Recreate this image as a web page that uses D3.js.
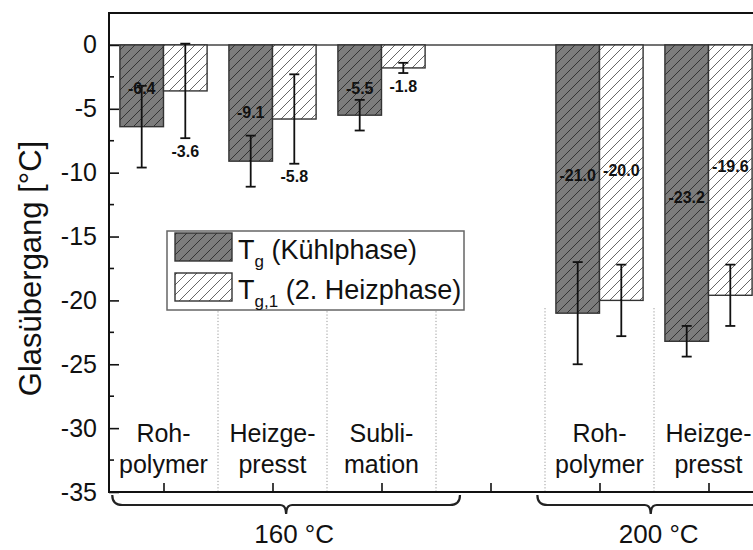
<!DOCTYPE html>
<html>
<head>
<meta charset="utf-8">
<script src="https://cdn.jsdelivr.net/npm/d3@7/dist/d3.min.js"></script>
<style>
  html, body { margin: 0; padding: 0; background: #fff; }
  svg { display: block; font-family: "Liberation Sans", Arial, sans-serif; }
</style>
</head>
<body>
<svg id="chart" width="753" height="550"></svg>
<script>
// Category slots along the x axis (index 3 is the gap between the two temperature groups)
const categories = [["Roh-", "polymer"], ["Heizge-", "presst"], ["Subli-", "mation"], [], ["Roh-", "polymer"], ["Heizge-", "presst"]];
// Glass transition shift, cooling phase (Tg) and 2nd heating phase (Tg,1), in °C
const tgValues  = [-6.4, -9.1, -5.5, null, -21.0, -23.2];
const tgErrors  = [3.2, 2.0, 1.2, null, 4.0, 1.2];
const tg1Values = [-3.6, -5.8, -1.8, null, -20.0, -19.6];
const tg1Errors = [3.7, 3.5, 0.4, null, 2.8, 2.4];
// Where each value label sits (in °C along the axis)
const tgLabelAt  = [-3.4, -5.3, -3.4, null, -10.2, -11.9];
const tg1LabelAt = [-8.3, -10.3, -3.2, null, -9.8, -9.5];
const yTicks = [0, -5, -10, -15, -20, -25, -30, -35];
const yMinorTicks = [-2.5, -7.5, -12.5, -17.5, -22.5, -27.5, -32.5];
const groupLabels = ["160 °C", "200 °C"];
const seriesNames = [["T", "g", " (Kühlphase)"], ["T", "g,1", " (2. Heizphase)"]];

(function draw() {
  const svg = d3.select("#chart");
  const FONT = '"Liberation Sans", Arial, sans-serif';

  const x = d3.scaleLinear().domain([-0.5, 5.5]).range([109, 763]);
  const y = d3.scaleLinear().domain([2.5, -35]).range([13, 492]);
  const barW = x(0.4) - x(0);

  // hatch patterns
  const defs = svg.append("defs");
  function hatch(id, bg, stroke) {
    const p = defs.append("pattern").attr("id", id)
      .attr("patternUnits", "userSpaceOnUse").attr("width", 10).attr("height", 10);
    p.append("rect").attr("width", 10).attr("height", 10).attr("fill", bg);
    p.append("path").attr("d", "M-1,11 L11,-1 M-3,3 L3,-3 M7,13 L13,7")
      .attr("stroke", stroke).attr("stroke-width", 1);
  }
  hatch("hatchDark", "#7c7c7c", "#333");
  hatch("hatchLight", "#fff", "#666");

  const plotLeft = x.range()[0], plotRight = 753, plotTop = y(2.5), plotBottom = y(-35);

  // dotted separators between categories
  const seps = [0.5, 1.5, 2.5, 3.5, 4.5];
  svg.append("g").selectAll("line").data(seps).join("line")
    .attr("x1", d => x(d)).attr("x2", d => x(d))
    .attr("y1", y(-20.6)).attr("y2", plotBottom)
    .attr("stroke", "#999").attr("stroke-width", 1).attr("stroke-dasharray", "1.2,2");

  // zero line
  svg.append("line").attr("x1", plotLeft).attr("x2", plotRight).attr("y1", y(0)).attr("y2", y(0))
    .attr("stroke", "#444").attr("stroke-width", 1.6);

  const idx = d3.range(categories.length);
  const series = [
    { vals: tgValues, errs: tgErrors, labs: tgLabelAt, offset: -0.4, fill: "url(#hatchDark)" },
    { vals: tg1Values, errs: tg1Errors, labs: tg1LabelAt, offset: 0, fill: "url(#hatchLight)" }
  ];

  series.forEach(s => {
    const data = idx.filter(i => s.vals[i] != null);
    svg.append("g").selectAll("rect").data(data).join("rect")
      .attr("x", i => x(i + s.offset))
      .attr("y", y(0))
      .attr("width", barW)
      .attr("height", i => y(s.vals[i]) - y(0))
      .attr("fill", s.fill)
      .attr("stroke", "#333").attr("stroke-width", 1.4);
  });

  series.forEach(s => {
    const data = idx.filter(i => s.vals[i] != null);
    const g = svg.append("g").attr("stroke", "#111").attr("stroke-width", 1.8);
    data.forEach(i => {
      const cx = x(i + s.offset + 0.2);
      const y1 = y(s.vals[i] + s.errs[i]), y2 = y(s.vals[i] - s.errs[i]);
      g.append("line").attr("x1", cx).attr("x2", cx).attr("y1", y1).attr("y2", y2);
      g.append("line").attr("x1", cx - 5).attr("x2", cx + 5).attr("y1", y1).attr("y2", y1);
      g.append("line").attr("x1", cx - 5).attr("x2", cx + 5).attr("y1", y2).attr("y2", y2);
    });
  });

  series.forEach(s => {
    const data = idx.filter(i => s.vals[i] != null);
    svg.append("g").selectAll("text").data(data).join("text")
      .attr("x", i => x(i + s.offset + 0.2))
      .attr("y", i => y(s.labs[i]))
      .attr("dy", "0.36em")
      .attr("text-anchor", "middle")
      .attr("font-family", FONT).attr("font-size", 16).attr("font-weight", "bold")
      .attr("fill", "#111")
      .text(i => s.vals[i].toFixed(1));
  });

  // frame: top border, left axis, bottom axis
  svg.append("line").attr("x1", plotLeft).attr("x2", plotRight).attr("y1", plotTop).attr("y2", plotTop)
    .attr("stroke", "#111").attr("stroke-width", 2);

  const yAxis = d3.axisLeft(y).tickValues(yTicks).tickSize(-10).tickPadding(12).tickFormat(d => String(d));
  const gy = svg.append("g").attr("transform", `translate(${plotLeft},0)`).call(yAxis);
  gy.select(".domain").remove();
  gy.selectAll(".tick line").attr("stroke", "#111").attr("stroke-width", 1.6);
  gy.selectAll(".tick text").attr("font-family", FONT).attr("font-size", 25).attr("fill", "#111");
  svg.append("g").selectAll("line").data(yMinorTicks).join("line")
    .attr("x1", plotLeft).attr("x2", plotLeft + 5).attr("y1", d => y(d)).attr("y2", d => y(d))
    .attr("stroke", "#111").attr("stroke-width", 1.6);
  svg.append("line").attr("x1", plotLeft).attr("x2", plotLeft).attr("y1", plotTop - 1).attr("y2", plotBottom + 1)
    .attr("stroke", "#111").attr("stroke-width", 2);

  const xAxis = d3.axisBottom(x).tickValues(idx).tickSize(-9).tickFormat("");
  const gx = svg.append("g").attr("transform", `translate(0,${plotBottom})`).call(xAxis);
  gx.select(".domain").remove();
  gx.selectAll(".tick line").attr("stroke", "#111").attr("stroke-width", 1.6);
  svg.append("line").attr("x1", plotLeft).attr("x2", plotRight).attr("y1", plotBottom).attr("y2", plotBottom)
    .attr("stroke", "#111").attr("stroke-width", 2);

  // category labels (two lines each)
  const cat = svg.append("g").attr("font-family", FONT).attr("font-size", 25).attr("fill", "#111")
    .attr("text-anchor", "middle");
  idx.forEach(i => {
    categories[i].forEach((line, k) => {
      cat.append("text").attr("x", x(i)).attr("y", 442 + k * 31).text(line);
    });
  });

  // group braces under the axis
  const braceSpans = [[-0.47, 2.72], [3.43, 5.51]];
  const bg = svg.append("g");
  braceSpans.forEach(([a, b], gi) => {
    const x0 = x(a), x1 = x(b), cx = (x0 + x1) / 2;
    const yb = plotBottom + 13, yt = plotBottom + 3;
    const p = d3.path();
    p.moveTo(x0, yt);
    p.quadraticCurveTo(x0, yb, x0 + 10, yb);
    p.lineTo(cx - 6, yb);
    p.quadraticCurveTo(cx, yb, cx, yb + 9);
    p.quadraticCurveTo(cx, yb, cx + 6, yb);
    p.lineTo(x1 - 10, yb);
    p.quadraticCurveTo(x1, yb, x1, yt);
    bg.append("path").attr("d", p.toString()).attr("fill", "none")
      .attr("stroke", "#222").attr("stroke-width", 2.2);
    bg.append("text").attr("x", cx + 8).attr("y", 543)
      .attr("text-anchor", "middle").attr("font-family", FONT).attr("font-size", 26).attr("fill", "#111")
      .text(groupLabels[gi]);
  });

  // y axis title
  svg.append("text")
    .attr("transform", `translate(41,${(y(0) + y(-35)) / 2}) rotate(-90)`)
    .attr("text-anchor", "middle")
    .attr("font-family", FONT).attr("font-size", 31).attr("fill", "#111")
    .text("Glasübergang [°C]");

  // legend
  const lg = svg.append("g");
  lg.append("rect").attr("x", 167).attr("y", 231).attr("width", 297).attr("height", 79)
    .attr("fill", "#fff").attr("stroke", "#666").attr("stroke-width", 1.5);
  const fills = ["url(#hatchDark)", "url(#hatchLight)"];
  seriesNames.forEach((nm, k) => {
    const ry = 233 + k * 40;
    lg.append("rect").attr("x", 175).attr("y", ry).attr("width", 57).attr("height", 28)
      .attr("fill", fills[k]).attr("stroke", "#333").attr("stroke-width", 1.4);
    const t = lg.append("text").attr("x", 238).attr("y", ry + 26)
      .attr("font-family", FONT).attr("font-size", 27).attr("fill", "#111");
    t.append("tspan").text(nm[0]);
    t.append("tspan").attr("font-size", 17).attr("dy", 8).text(nm[1]);
    t.append("tspan").attr("dy", -8).text(nm[2]);
  });
})();
</script>
</body>
</html>
